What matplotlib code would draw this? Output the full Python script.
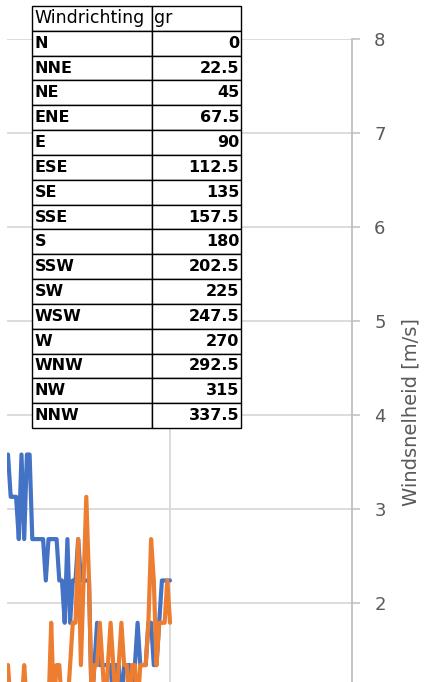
import matplotlib.pyplot as plt
import numpy as np

# lookup table shown on top of the chart
directions = ["N", "NNE", "NE", "ENE", "E", "ESE", "SE", "SSE",
              "S", "SSW", "SW", "WSW", "W", "WNW", "NW", "NNW"]
degrees = ["0", "22.5", "45", "67.5", "90", "112.5", "135", "157.5",
           "180", "202.5", "225", "247.5", "270", "292.5", "315", "337.5"]

# wind speed [m/s], one value per sample (blue and orange series)
speed_blue = [3.58, 3.13, 3.13, 3.13, 2.68, 3.58, 2.68, 3.58, 3.58, 2.68,
              2.68, 2.68, 2.68, 2.68, 2.24, 2.68, 2.68, 2.68, 2.68, 2.24,
              2.24, 1.79, 2.68, 1.79, 2.24, 2.24, 2.68, 2.24, 2.24, 2.24,
              2.24, 0.89, 1.34, 1.79, 1.34, 1.34, 1.34, 1.34, 1.34, 0.89,
              1.34, 1.34, 0.89, 1.34, 1.34, 1.34, 0.89, 1.34, 1.79, 1.34,
              1.34, 1.34, 1.79, 1.79, 1.34, 1.34, 1.79, 2.24, 2.24, 2.24,
              2.24]
speed_orange = [1.34, 0.89, 0.89, 0.89, 0.89, 0.89, 1.34, 0.89, 0.89, 0.89,
                0.89, 0.89, 0.89, 0.89, 0.89, 0.89, 1.79, 0.89, 1.34, 1.34,
                0.89, 0.89, 0.89, 1.34, 1.79, 1.79, 2.68, 1.34, 2.24, 3.13,
                2.24, 0.89, 1.34, 1.34, 1.79, 1.34, 0.89, 1.34, 1.79, 1.34,
                0.89, 1.34, 1.79, 1.34, 1.34, 0.89, 1.34, 1.34, 0.89, 1.34,
                1.34, 1.34, 1.79, 2.68, 2.24, 1.34, 1.79, 1.79, 1.79, 2.24,
                1.79]
y_ticks = [2, 3, 4, 5, 6, 7, 8]

W, H = 427, 682
fig = plt.figure(figsize=(W / 100, H / 100), dpi=100)
fig.patch.set_facecolor("white")

ax = fig.add_axes([7 / W, 0, 345 / W, 643 / H])
idx = np.arange(len(speed_blue))
ax.plot(idx, speed_blue, color="#4472C4", lw=3,
        solid_joinstyle="round", solid_capstyle="round", zorder=3)
ax.plot(idx, speed_orange, color="#ED7D31", lw=3,
        solid_joinstyle="round", solid_capstyle="round", zorder=4)

step = 162 / (len(idx) - 1)  # px per sample
x0 = -1 / step
ax.set_xlim(x0, x0 + 345 / step)
ax.set_ylim(1.16, 8)
ax.set_yticks(y_ticks)
ax.set_xticks([idx[-1]])
ax.grid(True, color="#d9d9d9", lw=1.3)
ax.set_axisbelow(True)

ax.yaxis.tick_right()
ax.tick_params(axis="y", colors="#bfbfbf", labelcolor="#595959",
               length=6, width=1.1, pad=10, labelsize=13)
ax.tick_params(axis="x", length=0, labelbottom=False)
for s in ["top", "left", "bottom"]:
    ax.spines[s].set_visible(False)
ax.spines["right"].set_color("#bfbfbf")
ax.spines["right"].set_linewidth(1.3)

ax.yaxis.set_label_position("right")
ax.set_ylabel("Windsnelheid [m/s]", fontsize=14, color="#595959")
ax.yaxis.label.set_va("center")
ax.yaxis.set_label_coords((411 - 7) / 345, (682 - 412) / 643)

# table overlay
tax = fig.add_axes([32 / W, 1 - 428 / H, 209 / W, 422 / H])
tax.axis("off")
rows = [["Windrichting", "gr"]] + [[d, g] for d, g in zip(directions, degrees)]
tab = tax.table(cellText=rows, bbox=[0, 0, 1, 1],
                colWidths=[120 / 209, 89 / 209], zorder=10)
tab.auto_set_font_size(False)
tab.set_fontsize(11.5)
for (r, c), cell in tab.get_celld().items():
    cell.PAD = 0.02
    cell.set_edgecolor("black")
    cell.set_linewidth(1.0)
    cell.set_facecolor("white")
    txt = cell.get_text()
    if r == 0:
        cell._loc = "left"
        txt.set_ha("left")
        txt.set_fontsize(12.5)
    else:
        txt.set_fontweight("bold")
        if c == 0:
            cell._loc = "left"
            txt.set_ha("left")
        else:
            cell._loc = "right"
            txt.set_ha("right")

fig.savefig("out.png", dpi=100)
